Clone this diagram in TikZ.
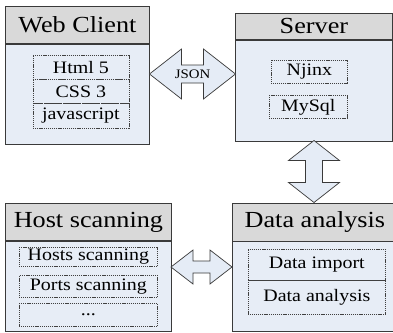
\documentclass[tikz,border=0pt]{standalone}
\usepackage{fontspec}
\setmainfont{Liberation Serif}[FakeStretch=1.14]
\definecolor{linec}{HTML}{3A3A3A}
\definecolor{itemc}{HTML}{404040}
\definecolor{hdrfill}{HTML}{D9D9D9}
\definecolor{bodyfill}{HTML}{E7EDF6}
\definecolor{arrowfill}{HTML}{E5ECF6}
\tikzset{
  hdr/.style={draw=linec, fill=hdrfill, anchor=north west, inner sep=0pt, line width=0.8pt, font=\fontsize{23}{23}\selectfont},
  bodybox/.style={draw=linec, fill=bodyfill, anchor=north west, inner sep=0pt, line width=0.8pt},
  itembox/.style={draw=itemc, dash pattern=on 1.1pt off 0.8pt, line width=0.7pt, anchor=north west, inner sep=0pt, font=\fontsize{17.5}{18}\selectfont},
  blockarrow/.style={draw=linec, fill=arrowfill, line width=0.7pt, line join=miter},
  jsonlabel/.style={inner sep=0pt, font=\fontsize{13}{13}\selectfont}
}
\begin{document}
\begin{tikzpicture}[x=1pt,y=-1pt]
\useasboundingbox (0,0) rectangle (393,332);
\fill[white] (0,0) rectangle (393,332);
% Web Client
\node[hdr, minimum width=144pt, minimum height=37pt] (wch) at (5,6) {Web Client};
\node[bodybox, minimum width=144pt, minimum height=100pt] (wcb) at (wch.south west) {};
\node[itembox, minimum width=96pt, minimum height=24pt] (html) at (32.5,55) {Html 5};
\node[itembox, minimum width=96pt, minimum height=24pt] (css) at (32.5,79) {CSS 3};
\node[itembox, minimum width=96pt, minimum height=25pt] (js) at (32.5,103) {javascript};
% Server
\node[hdr, minimum width=157pt, minimum height=26pt] (svh) at (235,13) {Server};
\node[bodybox, minimum width=157pt, minimum height=101pt] (svb) at (svh.south west) {};
\node[itembox, minimum width=76pt, minimum height=23pt] (njinx) at (271,60) {Njinx};
\node[itembox, minimum width=78pt, minimum height=23pt] (mysql) at (269,95) {MySql};
% Host scanning
\node[hdr, minimum width=166pt, minimum height=37pt] (hsh) at (5,203) {Host scanning};
\node[bodybox, minimum width=166pt, minimum height=90pt] (hsb) at (hsh.south west) {};
\node[itembox, minimum width=138pt, minimum height=19pt] (hosts) at (19,247) {Hosts scanning};
\node[itembox, minimum width=138pt, minimum height=22pt] (ports) at (19,275) {Ports scanning};
\node[itembox, minimum width=138pt, minimum height=23pt] (dots) at (19,303) {...};
% Data analysis
\node[hdr, minimum width=165pt, minimum height=37.5pt] (dah) at (232,203) {Data analysis};
\node[bodybox, minimum width=165pt, minimum height=89.5pt] (dab) at (dah.south west) {};
\node[itembox, minimum width=137pt, minimum height=31pt] (dimp) at (248,249) {Data import};
\node[itembox, minimum width=137pt, minimum height=34pt] (dana) at (248,280) {Data analysis};
% Arrows
\coordinate (jl) at (149.5,74);
\draw[blockarrow] (jl) -- ++(32,-25) -- ++(0,16) -- ++(22,0) -- ++(0,-16) -- ++(32,25)
  -- ++(-32,25) -- ++(0,-16) -- ++(-22,0) -- ++(0,16) -- cycle;
\node[jsonlabel] (json) at (192.5,74) {JSON};
\coordinate (vt) at (314,140.5);
\draw[blockarrow] (vt) -- ++(25.5,20) -- ++(-17,0) -- ++(0,22) -- ++(17,0) -- ++(-25.5,20)
  -- ++(-25.5,-20) -- ++(17,0) -- ++(0,-22) -- ++(-17,0) -- cycle;
\coordinate (bl) at (171,267);
\draw[blockarrow] (bl) -- ++(22,-17) -- ++(0,11) -- ++(17,0) -- ++(0,-11) -- ++(22,17)
  -- ++(-22,17) -- ++(0,-11) -- ++(-17,0) -- ++(0,11) -- cycle;
\end{tikzpicture}
\end{document}
